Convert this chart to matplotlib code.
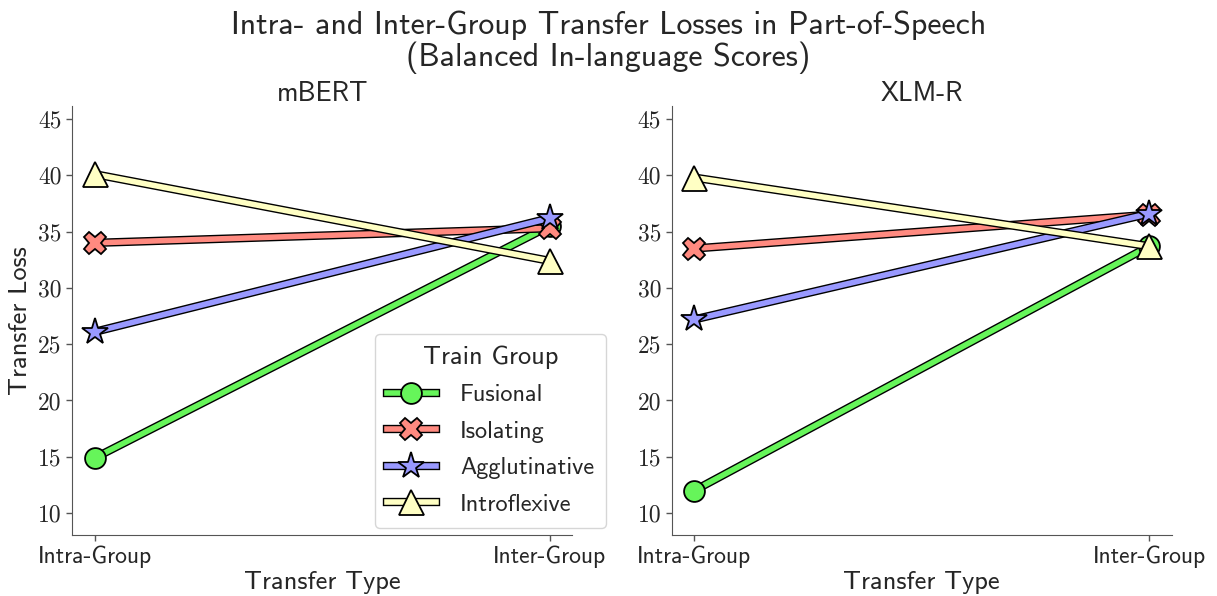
# Intra- vs inter-group transfer losses, POS, two models side by side
import matplotlib.pyplot as plt
import matplotlib.patheffects as pe

plt.rcParams['font.family'] = ['cmss10', 'DejaVu Sans']
plt.rcParams['axes.formatter.use_mathtext'] = True
plt.rcParams['text.color'] = '#262626'
plt.rcParams['axes.labelcolor'] = '#262626'
plt.rcParams['xtick.color'] = '#262626'
plt.rcParams['ytick.color'] = '#262626'

# DATA
transfer_types = ['Intra-Group', 'Inter-Group']
groups = ['Fusional', 'Isolating', 'Agglutinative', 'Introflexive']
models = ['mBERT', 'XLM-R']

mbert_fusional = [14.9, 35.5]
mbert_isolating = [34.0, 35.3]
mbert_agglutinative = [26.1, 36.2]
mbert_introflexive = [40.1, 32.4]

xlmr_fusional = [12.0, 33.7]
xlmr_isolating = [33.5, 36.5]
xlmr_agglutinative = [27.2, 36.6]
xlmr_introflexive = [39.8, 33.7]

yticks = [10, 15, 20, 25, 30, 35, 40, 45]

# STYLES
colors = ['#66f55a', '#ff8a80', '#9999ff', '#ffffc4']
markers = ['o', 'X', '*', '^']
msizes = [15, 16, 20, 18]

series = {
    'mBERT': [mbert_fusional, mbert_isolating, mbert_agglutinative, mbert_introflexive],
    'XLM-R': [xlmr_fusional, xlmr_isolating, xlmr_agglutinative, xlmr_introflexive],
}

fig, axes = plt.subplots(1, 2, figsize=(12.17, 5.96), dpi=100)
fig.subplots_adjust(left=0.0592, right=0.963, bottom=0.1023, top=0.822, wspace=0.198)

outline = [pe.Stroke(linewidth=6, foreground='black'), pe.Normal()]

handles = []
for ax, model in zip(axes, models):
    handles = []
    for vals, grp, c, m, ms in zip(series[model], groups, colors, markers, msizes):
        ln, = ax.plot([0, 1], vals, color=c, lw=4, path_effects=outline)
        mk, = ax.plot([0, 1], vals, ls='none', marker=m, markersize=ms,
                      markerfacecolor=c, markeredgecolor='black', markeredgewidth=1.3)
        handles.append((ln, mk))
    ax.set_xlim(-0.05, 1.05)
    ax.set_ylim(8.05, 46.15)
    ax.set_xticks([0, 1])
    ax.set_xticklabels(transfer_types, fontsize=17)
    ax.set_yticks(yticks)
    ax.set_yticklabels([str(v) for v in yticks], fontsize=17, family='cmr10')
    ax.set_title(model, fontsize=19.5, pad=1)
    ax.set_xlabel('Transfer Type', fontsize=19, labelpad=2)
    for s in ['top', 'right']:
        ax.spines[s].set_visible(False)
    for s in ['left', 'bottom']:
        ax.spines[s].set_color('#555555')
    ax.tick_params(length=4, width=1, color='#555555')

axes[0].set_ylabel('Transfer Loss', fontsize=19, labelpad=4)
leg = axes[0].legend(handles, groups, title='Train Group', loc='lower right',
                     fontsize=17.5, title_fontsize=19, frameon=True, fancybox=True,
                     handlelength=2.0, handletextpad=1.0, borderpad=0.5,
                     labelspacing=0.6, bbox_to_anchor=(1.092, -0.012))
leg.get_frame().set_edgecolor('#cccccc')

fig.suptitle('Intra- and Inter-Group Transfer Losses in Part-of-Speech\n(Balanced In-language Scores)',
             fontsize=23, y=0.982, linespacing=1.05)

fig.savefig('out.png', dpi=100)
